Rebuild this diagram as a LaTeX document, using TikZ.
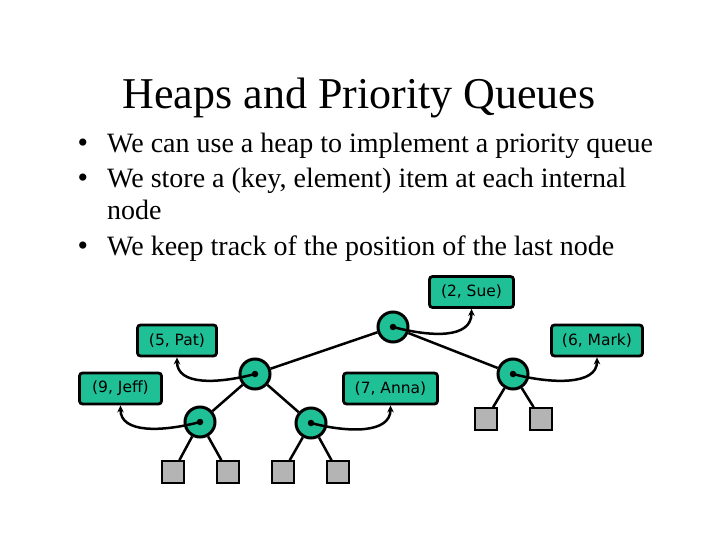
\documentclass[tikz,border=0pt]{standalone}
\usepackage{fontspec}
\setmainfont{Liberation Serif}
\newfontfamily\boxfont{DejaVu Sans}
\usetikzlibrary{arrows.meta}
\definecolor{tealfill}{RGB}{32,192,150}
\definecolor{leafgray}{RGB}{180,180,180}
\begin{document}
\begin{tikzpicture}[x=1pt,y=-1pt,
  inner/.style={circle,draw,fill=tealfill,line width=3pt,minimum size=30pt,inner sep=0pt},
  leaf/.style={rectangle,draw,fill=leafgray,line width=1.6pt,minimum size=22pt,inner sep=0pt},
  item/.style={rectangle,rounded corners=3pt,draw,fill=tealfill,line width=2.8pt,minimum height=31pt,inner sep=0pt,font=\boxfont\fontsize{15.5}{18}\selectfont},
  edge/.style={line width=2.5pt},
  link/.style={line width=2.5pt,-{Stealth[length=7pt,width=6.5pt]}},
  dot/.style={circle,fill=black,inner sep=0pt,minimum size=6.5pt},
  bul/.style={anchor=base west,inner sep=0pt,font=\fontsize{28}{30}\selectfont},
  bdot/.style={anchor=base,inner sep=0pt,font=\fontsize{30}{30}\selectfont}]
\useasboundingbox (0,0) rectangle (720,540);
% title and bullets
\node[anchor=base,inner sep=0pt,font=\fontsize{44}{50}\selectfont] (title) at (359,109) {Heaps and Priority Queues};
\node[bdot] (b1) at (83,153) {•};
\node[bul] (t1) at (107,153) {We can use a heap to implement a priority queue};
\node[bdot] (b2) at (83,188) {•};
\node[bul] (t2) at (107,188) {We store a (key, element) item at each internal};
\node[bul] (t3) at (107,219) {node};
\node[bdot] (b3) at (83,255) {•};
\node[bul] (t4) at (107,255) {We keep track of the position of the last node};
% tree nodes
\node[inner] (r) at (393,327) {};
\node[inner] (p) at (255,374) {};
\node[inner] (m) at (513,374) {};
\node[inner] (j) at (200,422) {};
\node[inner] (a) at (311,423) {};
\node[leaf] (l1) at (173,472) {};
\node[leaf] (l2) at (228,472) {};
\node[leaf] (l3) at (283,472) {};
\node[leaf] (l4) at (338,472) {};
\node[leaf] (l5) at (486,419) {};
\node[leaf] (l6) at (541,419) {};
\draw[edge] (r) -- (p);
\draw[edge] (r) -- (m);
\draw[edge] (p) -- (j);
\draw[edge] (p) -- (a);
\draw[edge] (j) -- (l1);
\draw[edge] (j) -- (l2);
\draw[edge] (a) -- (l3);
\draw[edge] (a) -- (l4);
\draw[edge] (m) -- (l5);
\draw[edge] (m) -- (l6);
% items
\node[item,minimum width=84pt] (sue) at (471.5,292) {(2, Sue)};
\node[item,minimum width=91pt] (mark) at (597,340.5) {(6, Mark)};
\node[item,minimum width=94pt] (anna) at (390.5,388.5) {(7, Anna)};
\node[item,minimum width=79pt] (pat) at (177,340.5) {(5, Pat)};
\node[item,minimum width=82pt] (jeff) at (120.5,388.5) {(9, Jeff)};
% dots and links
\foreach \n in {r,p,m,j,a} \node[dot] (\n d) at (\n.center) {};
\draw[link] (rd.center) .. controls +(38,10) and +(0,30) .. (sue.south);
\draw[link] (md.center) .. controls +(38,10) and +(0,28) .. (mark.south);
\draw[link] (ad.center) .. controls +(38,10) and +(0,28) .. (anna.south);
\draw[link] (pd.center) .. controls +(-38,10) and +(0,28) .. (pat.south);
\draw[link] (jd.center) .. controls +(-38,10) and +(0,28) .. (jeff.south);
\end{tikzpicture}
\end{document}
